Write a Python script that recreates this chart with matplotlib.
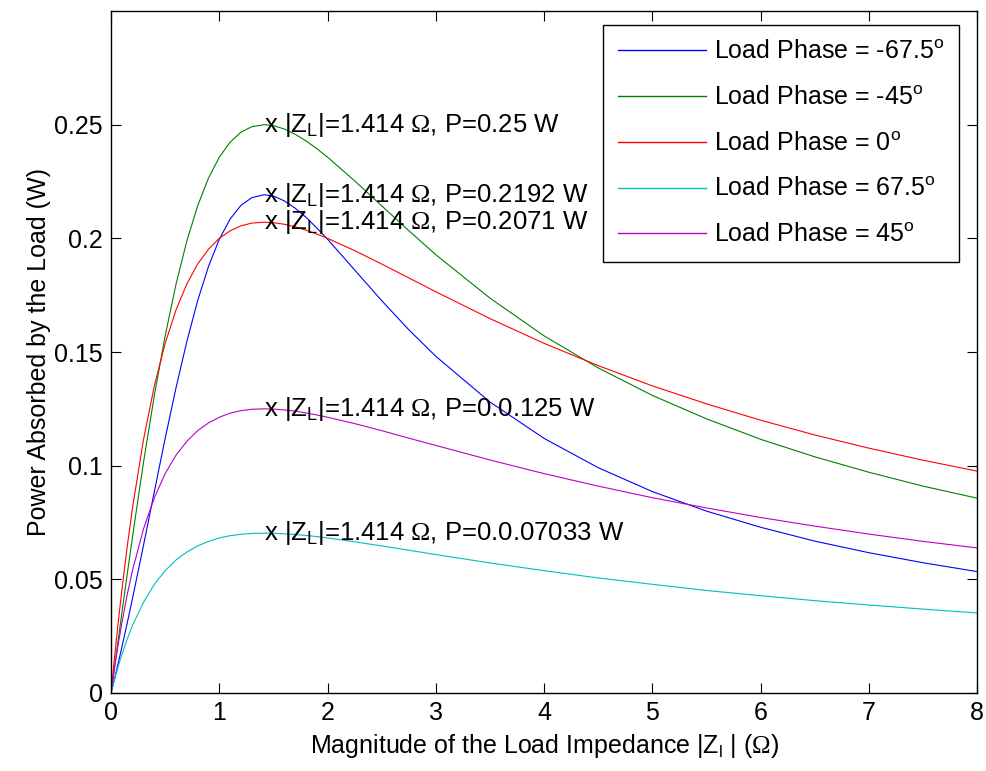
import matplotlib
matplotlib.use("Agg")
import matplotlib.pyplot as plt

plt.rcParams['font.family'] = ['Liberation Sans', 'DejaVu Sans']
plt.rcParams['mathtext.fontset'] = 'custom'
plt.rcParams['mathtext.rm'] = 'Liberation Sans'
plt.rcParams['mathtext.it'] = 'Liberation Sans'
plt.rcParams['mathtext.sf'] = 'Liberation Serif'
plt.rcParams['mathtext.default'] = 'regular'

# load impedance magnitude (ohm)
zl = [0, 0.025, 0.05, 0.075, 0.1, 0.15, 0.2, 0.3, 0.4, 0.5, 0.6, 0.7, 0.8, 0.9, 1.0, 1.1,
      1.2, 1.3, 1.414, 1.5, 1.6, 1.7, 1.8, 1.9, 2.0, 2.25, 2.5, 2.75, 3.0, 3.5, 4.0, 4.5,
      5.0, 5.5, 6.0, 6.5, 7.0, 7.5, 8.0]

# absorbed power (W) for each load phase
p_m675 = [0, 0.0048, 0.0098, 0.0149, 0.0201, 0.0309, 0.0420, 0.0650, 0.0886, 0.1120, 0.1342,
          0.1546, 0.1726, 0.1876, 0.1996, 0.2085, 0.2145, 0.2179, 0.2192, 0.2186, 0.2165,
          0.2133, 0.2093, 0.2046, 0.1996, 0.1861, 0.1726, 0.1598, 0.1481, 0.1280, 0.1120,
          0.0991, 0.0886, 0.0800, 0.0729, 0.0668, 0.0617, 0.0573, 0.0534]
p_m45 = [0, 0.0088, 0.0177, 0.0264, 0.0352, 0.0524, 0.0693, 0.1015, 0.1309, 0.1571, 0.1798,
         0.1988, 0.2143, 0.2265, 0.2357, 0.2423, 0.2467, 0.2491, 0.2500, 0.2496, 0.2481,
         0.2458, 0.2429, 0.2395, 0.2357, 0.2253, 0.2143, 0.2034, 0.1928, 0.1737, 0.1571,
         0.1430, 0.1309, 0.1206, 0.1116, 0.1039, 0.0971, 0.0910, 0.0857]
p_0 = [0, 0.0122, 0.0238, 0.0348, 0.0452, 0.0646, 0.0820, 0.1115, 0.1351, 0.1538, 0.1685,
       0.1799, 0.1887, 0.1952, 0.2000, 0.2033, 0.2055, 0.2067, 0.2071, 0.2069, 0.2062,
       0.2051, 0.2036, 0.2019, 0.2000, 0.1946, 0.1887, 0.1826, 0.1765, 0.1647, 0.1538,
       0.1440, 0.1351, 0.1272, 0.1200, 0.1135, 0.1077, 0.1024, 0.0976]
p_675 = [0, 0.0046, 0.0090, 0.0130, 0.0168, 0.0238, 0.0299, 0.0399, 0.0478, 0.0538, 0.0585,
         0.0620, 0.0647, 0.0667, 0.0682, 0.0692, 0.0698, 0.0702, 0.0703, 0.0703, 0.0700,
         0.0697, 0.0693, 0.0688, 0.0682, 0.0665, 0.0647, 0.0628, 0.0609, 0.0572, 0.0538,
         0.0506, 0.0478, 0.0451, 0.0428, 0.0406, 0.0387, 0.0369, 0.0352]
p_45 = [0, 0.0085, 0.0165, 0.0239, 0.0308, 0.0434, 0.0543, 0.0722, 0.0859, 0.0965, 0.1046,
        0.1107, 0.1154, 0.1188, 0.1213, 0.1231, 0.1242, 0.1248, 0.1250, 0.1249, 0.1245,
        0.1240, 0.1232, 0.1223, 0.1213, 0.1185, 0.1154, 0.1121, 0.1089, 0.1025, 0.0965,
        0.0910, 0.0859, 0.0814, 0.0772, 0.0734, 0.0699, 0.0667, 0.0638]

labels = ['Load Phase = -67.5$^{o}$', 'Load Phase = -45$^{o}$', 'Load Phase = 0$^{o}$',
          'Load Phase = 67.5$^{o}$', 'Load Phase = 45$^{o}$']
colors = ['#0000ff', '#008000', '#ff0000', '#00bfbf', '#bf00bf']
series = [p_m675, p_m45, p_0, p_675, p_45]

# maximum points
z_max = 1.414
p_max = [0.25, 0.2192, 0.2071, 0.125, 0.07033]
max_text = ['0.25', '0.2192', '0.2071', '0.0.125', '0.0.07033']

fig = plt.figure(figsize=(9.87, 7.71), dpi=100)
ax = fig.add_axes([0.1125, 0.1012, 0.8775, 0.8845])

for p, c, lab in zip(series, colors, labels):
    ax.plot(zl, p, color=c, lw=0.8, label=lab)

for pm, t in zip(p_max, max_text):
    ax.text(z_max, pm, r'x |Z$_{L}$|=1.414 $\mathsf{\Omega}$, P=' + t + ' W',
            fontsize=18.5, ha='left', va='center')

ax.set_xlim(0, 8)
ax.set_ylim(0, 0.3)
ax.set_xticks(range(0, 9))
ax.set_yticks([0, 0.05, 0.1, 0.15, 0.2, 0.25])
ax.set_yticklabels(['0', '0.05', '0.1', '0.15', '0.2', '0.25'])
ax.tick_params(direction='in', top=True, right=True, length=7, width=0.8,
               labelsize=18, pad=6)
for sp in ax.spines.values():
    sp.set_linewidth(1.0)

ax.set_xlabel(r'Magnitude of the Load Impedance |Z$_{l}$ | ($\mathsf{\Omega}$)', fontsize=18, labelpad=5)
ax.set_ylabel('Power Absorbed by the Load (W)', fontsize=18, labelpad=2)

leg = ax.legend(loc='upper right', bbox_to_anchor=(0.979, 0.9795), borderaxespad=0,
                fontsize=18, fancybox=False, framealpha=1, edgecolor='black',
                handlelength=3.5, handletextpad=0.32, labelspacing=0.87, borderpad=0.6)
leg.get_frame().set_linewidth(1.0)
for line in leg.get_lines():
    line.set_linewidth(1.0)

fig.savefig('out.png', dpi=100)
